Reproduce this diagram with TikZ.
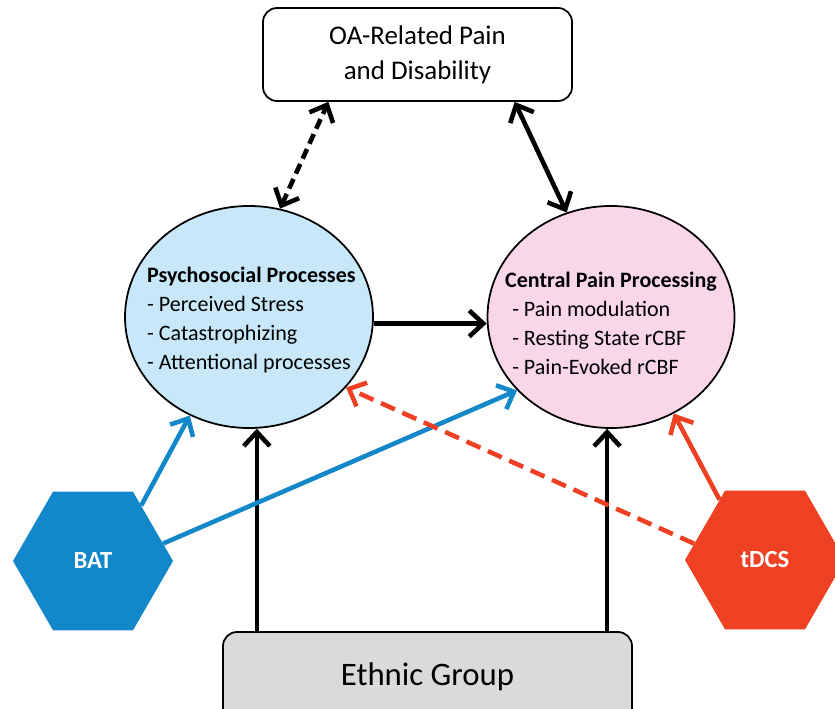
\documentclass[tikz,border=0pt]{standalone}
\usepackage{fontspec}
\setmainfont{Carlito}
\usepackage{tikz}
\usetikzlibrary{arrows.meta,shapes.geometric}
\definecolor{batblue}{RGB}{18,135,201}
\definecolor{tdcsred}{RGB}{238,64,35}
\definecolor{psyfill}{RGB}{200,232,249}
\definecolor{cppfill}{RGB}{249,214,232}
\definecolor{grpgray}{RGB}{217,218,218}

\begin{document}
\begin{tikzpicture}[x=0.03cm, y=-0.03cm,
		tip/.style={line width=3.9pt, -{Straight Barb[length=4.2mm,width=7.8mm]}},
		twotip/.style={line width=3.9pt, {Straight Barb[length=4.2mm,width=7.8mm]}-{Straight Barb[length=4.2mm,width=7.8mm]}},
		dashline/.style={dash pattern=on 9pt off 5pt},
		longdash/.style={dash pattern=on 13pt off 7pt},
		bubble/.style={shape=ellipse, draw, line width=1.5pt, inner sep=0pt},
		bubtext/.style={align=left, inner sep=0pt, font=\fontsize{18.8}{24.7}\selectfont},
		hexa/.style={shape=regular polygon, regular polygon sides=6, minimum size=4.8cm, inner sep=0pt, text=white, font=\bfseries\fontsize{21}{25}\selectfont},
		roundbox/.style={draw, rounded corners=12pt, line width=1.5pt}]
		\clip (0,0) rectangle (835,709);

		\node[roundbox, minimum width=9.27cm, minimum height=2.79cm, align=center, font=\fontsize{23}{30}\selectfont] (oa) at (417.5,54.5) {OA-Related Pain\\and Disability};
		\node[bubble, fill=psyfill, minimum width=7.44cm, minimum height=6.66cm] (psy) at (249,317) {};
		\node[bubble, fill=cppfill, minimum width=7.41cm, minimum height=6.66cm] (cpp) at (611,317) {};
		\node[bubtext, anchor=west] (psytext) at (147,320) {\textbf{Psychosocial Processes}\\- Perceived Stress\\- Catastrophizing\\- Attentional processes};
		\node[bubtext, anchor=west] (cpptext) at (505,323) {\textbf{Central Pain Processing}\\\hspace*{6pt}- Pain modulation\\\hspace*{6pt}- Resting State rCBF\\\hspace*{6pt}- Pain-Evoked rCBF};
		\node[hexa, fill=batblue] (bat) at (93,561) {BAT};
		\node[hexa, fill=tdcsred] (tdcs) at (765,560) {tDCS};
		\node[roundbox, fill=grpgray, minimum width=12.27cm, minimum height=2.7cm, font=\fontsize{28}{34}\selectfont] (grp) at (427.5,677) {Ethnic Group};

		\draw [twotip, dashline] (psy.74) -- (oa.208);
		\draw [twotip] (oa.-26) -- (cpp.113);
		\draw [tip] (psy.-3) -- (psy.-3 -| cpp.west);

		\draw [tip] (grp.north -| psy.-86) -- (psy.-86);
		\draw [tip] (grp.north -| cpp.-92.5) -- (cpp.-92.5);

		\draw [tip, draw=batblue] (bat.49) -- (psy.239);
		\draw [tip, draw=batblue] (bat.14) -- (cpp.218);
		\draw [tip, longdash, draw=tdcsred] (tdcs.167) -- (psy.-36);
		\draw [tip, draw=tdcsred] (tdcs.127) -- (cpp.-57);
\end{tikzpicture}
\end{document}
